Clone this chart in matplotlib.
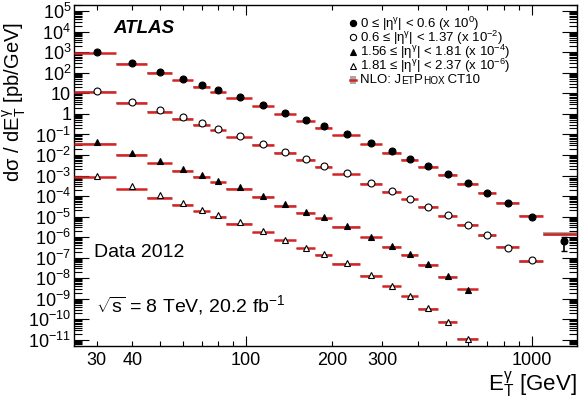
import matplotlib
matplotlib.use("Agg")
import matplotlib.pyplot as plt
import matplotlib.ticker as ticker
import numpy as np

plt.rcParams['font.family'] = ['Liberation Sans', 'DejaVu Sans']
plt.rcParams['mathtext.fontset'] = 'custom'
plt.rcParams['mathtext.rm'] = 'Liberation Sans'
plt.rcParams['mathtext.it'] = 'Liberation Sans:italic'
plt.rcParams['mathtext.bf'] = 'Liberation Sans:bold'

# E_T bin edges [GeV]
edges = [25, 35, 45, 55, 65, 75, 85, 105, 125, 150, 175, 200, 250, 300,
         350, 400, 470, 550, 650, 750, 900, 1100, 1500]

# measured dsigma/dE_T [pb/GeV] (unscaled)
data_eta1 = [1050, 305, 116, 50.8, 26, 13.8, 6.5, 2.67, 1.09, 0.48, 0.245, 0.1,
             0.0365, 0.0149, 0.0065, 0.00297, 0.00117, 4.13e-4, 1.44e-4, 4.54e-5,
             9.5e-6, 6.2e-7]
data_eta2 = [1320, 386, 147, 67, 34.3, 18.1, 8.26, 3.49, 1.38, 0.607, 0.296, 0.126,
             0.044, 0.0174, 0.0071, 0.0030, 0.00114, 3.86e-4, 1.26e-4, 3.03e-5, 7.6e-6]
data_eta3 = [437, 127, 48.5, 21.2, 10.5, 5.5, 2.82, 1.0, 0.406, 0.166, 0.091, 0.0356,
             0.0104, 0.00366, 0.00145, 4.9e-4, 1.27e-4, 2.65e-5]
data_eta4 = [970, 305, 115, 47, 20.7, 11.4, 5.2, 1.9, 0.72, 0.303, 0.145, 0.053,
             0.0138, 0.0040, 0.00135, 3.4e-4, 7.3e-5, 1.13e-5]

# error on the last point of the central region (the only one visible)
last_err = 4.0e-7

# NLO JetPhox CT10 prediction (unscaled)
nlo_eta1 = [875, 264, 99.5, 43.8, 20.7, 11.4, 5.65, 2.31, 0.94, 0.43, 0.21, 0.0894,
            0.0326, 0.0127, 0.0058, 0.00265, 0.00105, 3.95e-4, 1.44e-4, 4.54e-5,
            1.09e-5, 1.46e-6]
nlo_eta2 = [1180, 333, 131, 55.6, 28.4, 15.7, 7.15, 3.02, 1.27, 0.56, 0.265, 0.113,
            0.0395, 0.0161, 0.0069, 0.0029, 0.00109, 3.86e-4, 1.22e-4, 3.39e-5, 6.8e-6]
nlo_eta3 = [349, 98.4, 38.8, 16.9, 8.65, 4.6, 2.25, 0.89, 0.335, 0.153, 0.082, 0.0308,
            0.0097, 0.00328, 0.00134, 4.5e-4, 1.18e-4, 2.87e-5]
nlo_eta4 = [810, 211, 82, 36.3, 17.9, 9.5, 4.47, 1.70, 0.695, 0.284, 0.134, 0.0505,
            0.0131, 0.0040, 0.00131, 3.15e-4, 7.6e-5, 1.13e-5]
# relative theory uncertainty per bin
nlo_unc = [0.10, 0.08, 0.08, 0.08, 0.08, 0.08, 0.08, 0.08, 0.08, 0.08, 0.08, 0.08,
           0.08, 0.08, 0.08, 0.10, 0.10, 0.10, 0.12, 0.12, 0.15, 0.25]

scales = [1, 1e-2, 1e-4, 1e-6]

fig = plt.figure(figsize=(5.85, 4.01), dpi=100)
ax = fig.add_axes([0.1265, 0.137, 0.8595, 0.8505])

lo = np.array(edges[:-1], dtype=float)
hi = np.array(edges[1:], dtype=float)
mid = (lo + hi) / 2

series = [(data_eta1, nlo_eta1, 'o', 'black'),
          (data_eta2, nlo_eta2, 'o', 'white'),
          (data_eta3, nlo_eta3, '^', 'black'),
          (data_eta4, nlo_eta4, '^', 'white')]

for (data, nlo, m, fc), sc in zip(series, scales):
    n = len(data)
    pred = np.array(nlo) * sc
    unc = np.array(nlo_unc[:n])
    ax.bar(lo[:n], 2 * unc * pred, bottom=pred * (1 - unc), width=hi[:n] - lo[:n],
           align='edge', color='#a8a8a8', lw=0, zorder=2)
    ax.hlines(pred, lo[:n], hi[:n], color='#d42424', lw=1.8, zorder=3)
    ax.plot(mid[:n], np.array(data) * sc, ls='none', marker=m, mfc=fc, mec='black',
            ms=5, mew=0.8, zorder=4)

ax.errorbar(mid[len(data_eta1) - 1], data_eta1[-1], yerr=last_err, fmt='none',
            ecolor='black', elinewidth=1.2, capsize=2, zorder=4)

ax.set_xscale('log')
ax.set_yscale('log')
ax.set_xlim(25, 1440)
ax.set_ylim(5e-12, 2e5)

ax.yaxis.set_major_locator(ticker.LogLocator(base=10, numticks=40))
ax.yaxis.set_minor_locator(ticker.LogLocator(base=10, subs=np.arange(2, 10), numticks=40))


def yfmt(v, pos):
    e = int(round(np.log10(v)))
    if e == 0:
        return '1'
    if e == 1:
        return '10'
    return r'$\mathregular{10^{%d}}$' % e


ax.yaxis.set_major_formatter(ticker.FuncFormatter(yfmt))
ax.yaxis.set_minor_formatter(ticker.NullFormatter())

ax.xaxis.set_major_locator(ticker.FixedLocator([100, 1000]))
ax.xaxis.set_minor_locator(ticker.FixedLocator([30, 40, 50, 60, 70, 80, 90, 200, 300,
                                                400, 500, 600, 700, 800, 900]))
ax.xaxis.set_major_formatter(ticker.FuncFormatter(lambda v, p: '%d' % v))
ax.xaxis.set_minor_formatter(ticker.FuncFormatter(
    lambda v, p: '%d' % v if v in (30, 40, 200, 300) else ''))

ax.tick_params(which='both', direction='in', top=True, right=True, width=0.8)
ax.tick_params(axis='y', which='major', length=10.5, labelsize=13, pad=2)
ax.tick_params(axis='y', which='minor', length=5.5)
ax.tick_params(axis='x', which='major', length=7, labelsize=13, pad=4)
ax.tick_params(axis='x', which='minor', length=3.6, labelsize=13, pad=4)
for s in ax.spines.values():
    s.set_linewidth(1.0)

fig.text(0.986, 0.04, r'E$\mathregular{_T^{\gamma}}$ [GeV]', ha='right', va='center', fontsize=16)
fig.text(0.024, 0.745, r'd$\mathregular{\sigma}$ / dE$\mathregular{_T^{\gamma}}$ [pb/GeV]',
         ha='center', va='center', rotation=90, fontsize=14.5)

ax.text(0.0775, 0.93, 'ATLAS', transform=ax.transAxes, fontsize=13.5,
        fontweight='bold', fontstyle='italic', va='center')
ax.text(0.04, 0.273, 'Data 2012', transform=ax.transAxes, fontsize=14, va='center')
ax.text(0.044, 0.12, r'$\mathregular{\sqrt{s}}$ = 8 TeV, 20.2 fb$\mathregular{^{-1}}$',
        transform=ax.transAxes, fontsize=14, va='center')

# hand-made legend
leg_labels = ['0 ≤ |η$\\mathregular{^{\\gamma}}$| < 0.6 (x 10$\\mathregular{^{0}}$)',
              '0.6 ≤ |η$\\mathregular{^{\\gamma}}$| < 1.37 (x 10$\\mathregular{^{-2}}$)',
              '1.56 ≤ |η$\\mathregular{^{\\gamma}}$| < 1.81 (x 10$\\mathregular{^{-4}}$)',
              '1.81 ≤ |η$\\mathregular{^{\\gamma}}$| < 2.37 (x 10$\\mathregular{^{-6}}$)']
rows = [0.946, 0.905, 0.863, 0.821, 0.780]
for (data, nlo, m, fc), lab, yy in zip(series, leg_labels, rows):
    ax.plot([0.5547], [yy], transform=ax.transAxes, marker=m, mfc=fc, mec='black',
            ms=4.5, mew=0.8, ls='none', clip_on=False)
    ax.text(0.5686, yy, lab, transform=ax.transAxes, fontsize=9.5, va='center')

ax.add_patch(plt.Rectangle((0.5495, rows[4] - 0.011), 0.0105, 0.022, transform=ax.transAxes,
                           color='#a8a8a8', lw=0))
ax.plot([0.5495, 0.56], [rows[4], rows[4]], transform=ax.transAxes, color='#d42424', lw=1.8)
t = ax.text(0.5686, rows[4], 'NLO: J', transform=ax.transAxes, fontsize=9.5, va='center')
for piece, size in [('ET', 7.2), ('P', 9.5), ('HOX', 7.2), (' CT10', 9.5)]:
    t = ax.annotate(piece, xy=(1, 0), xycoords=t, fontsize=size, va='bottom', ha='left')

fig.savefig('out.png', dpi=100)
